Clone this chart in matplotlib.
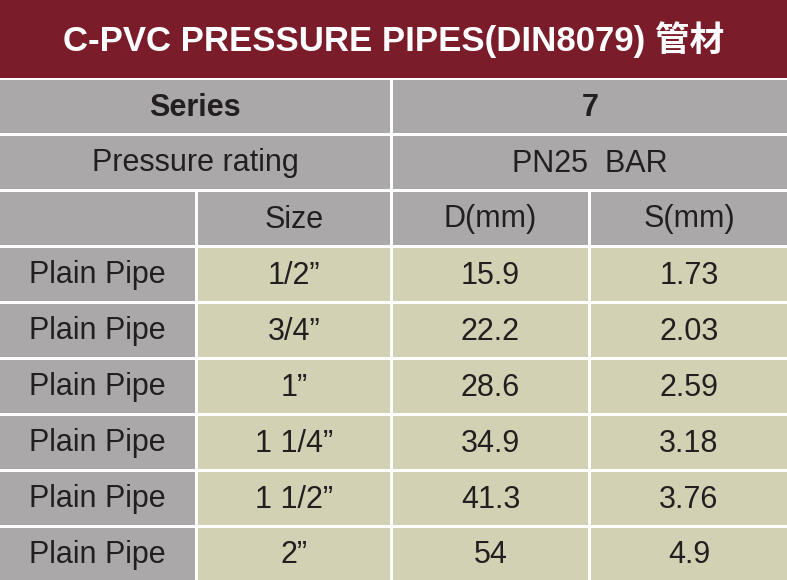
import matplotlib
matplotlib.use("Agg")
import matplotlib.pyplot as plt
from matplotlib.patches import Rectangle

title = "C-PVC PRESSURE PIPES(DIN8079) 管材"
series_label, series_value = "Series", "7"
pressure_label, pressure_value = "Pressure rating", "PN25  BAR"
headers = ["", "Size", "D(mm)", "S(mm)"]
row_label = "Plain Pipe"
sizes = ["1/2”", "3/4”", "1”", "1 1/4”", "1 1/2”", "2”"]
d_mm = ["15.9", "22.2", "28.6", "34.9", "41.3", "54"]
s_mm = ["1.73", "2.03", "2.59", "3.18", "3.76", "4.9"]

W, H = 787, 580
RED = "#7a1c2a"; GRAY = "#aba8a9"; BEIGE = "#d3d1b3"; TXT = "#231f20"
FONT = ["Liberation Sans", "Noto Sans CJK SC", "DejaVu Sans"]

fig = plt.figure(figsize=(W/100, H/100), dpi=100)
ax = fig.add_axes([0, 0, 1, 1])
ax.set_xlim(0, W); ax.set_ylim(H, 0); ax.axis("off")

def cell(x0, x1, y0, y1, color, text, size=22, weight="normal", tc=TXT):
    ax.add_patch(Rectangle((x0, y0), x1-x0, y1-y0, facecolor=color, edgecolor="none"))
    ax.text((x0+x1)/2, (y0+y1)/2 + 1, text, ha="center", va="center", fontsize=size,
            fontweight=weight, color=tc, family=FONT)

cell(0, W, 0, 78, RED, title, size=25, weight="bold", tc="white")
cell(0, 390, 80, 133, GRAY, series_label, weight="bold")
cell(393, W, 80, 133, GRAY, series_value, weight="bold")
cell(0, 390, 136, 189, GRAY, pressure_label)
cell(393, W, 136, 189, GRAY, pressure_value)
cols = [(0, 195), (198, 390), (393, 588), (591, W)]
for (x0, x1), h in zip(cols, headers):
    cell(x0, x1, 192, 245, GRAY, h)
for i, (sz, d, s) in enumerate(zip(sizes, d_mm, s_mm)):
    y0 = 248 + i*56; y1 = y0 + 53 if i < len(sizes)-1 else H
    cell(*cols[0], y0, y1, GRAY, row_label)
    for (x0, x1), v in zip(cols[1:], [sz, d, s]):
        cell(x0, x1, y0, y1, BEIGE, v)

fig.savefig("out.png", dpi=100, facecolor="white")
